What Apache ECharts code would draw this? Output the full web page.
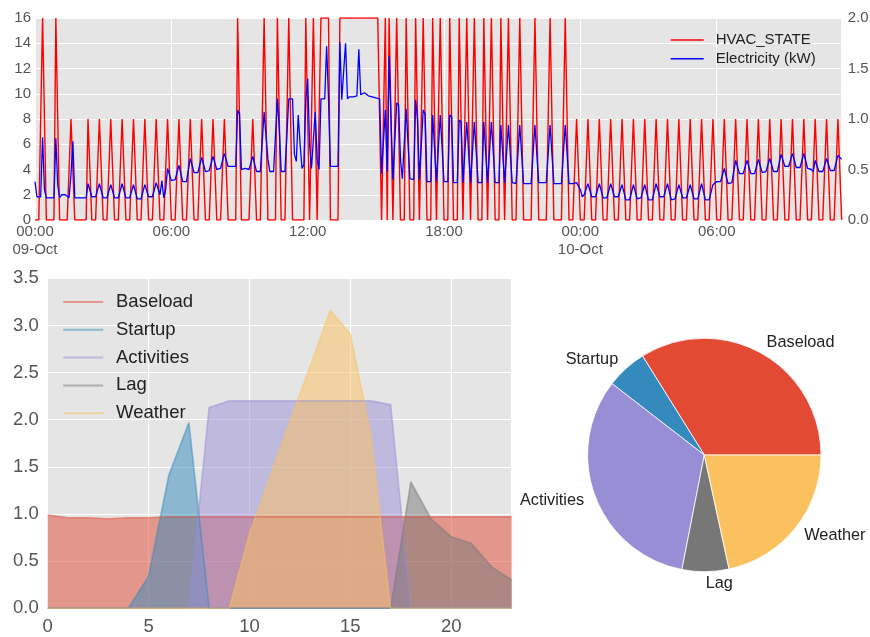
<!DOCTYPE html>
<html><head><meta charset="utf-8">
<script src="https://cdn.jsdelivr.net/npm/echarts@6/dist/echarts.min.js"></script>
<style>html,body{margin:0;padding:0;background:#fff}#c{width:870px;height:637px}</style>
</head><body><div id="c"></div>
<script>
// ---------- top chart data (5-minute samples, 00:00 09-Oct .. 11:30 10-Oct), one row per hour ----------
const timeTickLabels = ['00:00\n09-Oct', '06:00', '12:00', '18:00', '00:00\n10-Oct', '06:00'];
const sampleStepMinutes = 5;

const hvacState = [
  [0,0,0,0,16,16,0,0,0,0,0,16],      // 09-Oct 00h
  [16,0,0,0,0,0,0,8,8,0,0,0],
  [0,0,0,0,8,8,0,0,0,0,8,8],
  [0,0,0,0,8,8,0,0,0,0,8,8],
  [0,0,0,0,8,8,0,0,0,0,8,8],
  [0,0,0,0,8,8,0,0,0,0,8,8],
  [0,0,0,0,8,8,0,0,0,0,8,8],
  [0,0,0,0,8,8,0,0,0,0,8,8],
  [0,0,0,0,8,8,0,0,0,0,0,16],
  [16,0,0,0,0,0,0,8,8,0,0,0],
  [0,16,16,0,0,0,0,0,16,16,0,0],
  [0,0,16,16,0,0,0,0,0,0,0,16],
  [16,0,0,16,16,0,0,16,16,16,16,16],
  [0,0,0,0,0,16,16,16,16,16,16,16],
  [16,16,16,16,16,16,16,16,16,16,16,16],
  [16,16,16,0,0,16,0,16,16,0,0,16],
  [16,0,0,0,16,16,0,0,0,16,16,0],
  [0,16,16,0,0,0,16,16,0,0,16,16],
  [0,0,0,16,16,0,0,0,16,16,0,0],
  [16,16,0,0,16,16,0,0,0,16,16,0],
  [0,16,16,0,0,0,16,16,0,0,16,16],
  [0,0,0,0,16,16,0,0,0,0,0,0],
  [16,16,0,0,0,0,0,0,16,16,0,0],
  [0,0,0,0,16,16,0,0,0,0,8,8],
  [0,0,0,0,8,8,0,0,0,0,8,8],         // 10-Oct 00h
  [0,0,0,0,8,8,0,0,0,0,8,8],
  [0,0,0,0,8,8,0,0,0,0,8,8],
  [0,0,0,0,8,8,0,0,0,0,8,8],
  [0,0,0,0,8,8,0,0,0,0,8,8],
  [0,0,0,0,8,8,0,0,0,0,8,8],
  [0,0,0,0,8,8,0,0,0,0,8,8],
  [0,0,0,0,8,8,0,0,0,0,8,8],
  [0,0,0,0,8,8,0,0,0,0,8,8],
  [0,0,0,0,8,8,0,0,0,0,8,8],
  [0,0,0,0,8,8,0,0,0,0,8,8],
  [0,0,0,0,8,8,0]
].flat();

const electricityKW = [
  [0.38,0.23,0.23,0.23,0.82,0.3,0.22,0.22,0.22,0.22,0.22,0.81],
  [0.35,0.22,0.25,0.25,0.25,0.24,0.22,0.45,0.78,0.22,0.22,0.22],
  [0.22,0.22,0.22,0.22,0.36,0.36,0.23,0.23,0.23,0.23,0.36,0.36],
  [0.22,0.22,0.22,0.22,0.35,0.35,0.22,0.22,0.22,0.22,0.36,0.36],
  [0.22,0.22,0.22,0.22,0.35,0.35,0.21,0.21,0.21,0.22,0.35,0.35],
  [0.23,0.23,0.23,0.23,0.37,0.37,0.25,0.39,0.22,0.3,0.51,0.5],
  [0.39,0.39,0.4,0.4,0.54,0.54,0.38,0.38,0.38,0.39,0.61,0.61],
  [0.47,0.47,0.47,0.48,0.62,0.62,0.48,0.48,0.49,0.49,0.63,0.63],
  [0.5,0.5,0.51,0.51,0.66,0.66,0.53,0.53,0.53,0.53,0.53,1.09],
  [1.05,0.5,0.5,0.51,0.51,0.5,0.5,0.63,0.55,0.48,0.48,0.48],
  [0.48,1.07,1.07,0.6,0.48,0.48,0.48,0.48,1.2,0.9,0.48,0.48],
  [0.48,0.48,1.2,1.19,1.2,0.65,0.58,1.04,0.75,0.51,0.55,1.19],
  [1.4,0.75,0.51,0.8,1.07,0.6,0.5,1.2,1.2,1.2,1.72,1.2],
  [0.53,0.53,0.53,0.53,0.53,1.76,1.19,1.19,1.75,1.2,1.22,1.22],
  [1.22,1.22,1.23,1.69,1.24,1.25,1.26,1.25,1.23,1.22,1.22,1.22],
  [1.21,1.2,1.2,0.46,0.46,1.09,0.48,1.62,1.0,0.4,0.4,1.16],
  [1.14,0.6,0.41,0.41,1.1,1.11,0.41,0.4,0.4,1.19,1.0,0.4],
  [0.39,1.09,1.05,0.38,0.38,0.38,1.04,1.04,0.38,0.38,1.04,1.04],
  [0.38,0.38,0.38,1.04,1.02,0.37,0.37,0.37,0.99,0.97,0.37,0.37],
  [0.97,0.97,0.37,0.37,0.97,0.97,0.37,0.37,0.37,0.97,0.97,0.37],
  [0.37,0.97,0.97,0.37,0.37,0.37,0.94,0.94,0.37,0.37,0.94,0.94],
  [0.37,0.36,0.36,0.36,0.94,0.94,0.36,0.36,0.36,0.36,0.36,0.36],
  [0.94,0.94,0.37,0.37,0.37,0.37,0.37,0.37,0.94,0.94,0.36,0.36],
  [0.36,0.36,0.36,0.36,0.94,0.94,0.36,0.36,0.36,0.36,0.37,0.37],
  [0.3,0.23,0.25,0.24,0.36,0.36,0.23,0.23,0.23,0.23,0.36,0.36],
  [0.22,0.22,0.22,0.22,0.36,0.36,0.23,0.23,0.23,0.23,0.35,0.35],
  [0.2,0.2,0.2,0.2,0.35,0.35,0.21,0.21,0.22,0.22,0.35,0.35],
  [0.2,0.2,0.2,0.2,0.36,0.36,0.23,0.23,0.23,0.23,0.36,0.36],
  [0.2,0.2,0.21,0.21,0.35,0.35,0.22,0.22,0.22,0.22,0.35,0.35],
  [0.21,0.21,0.21,0.21,0.36,0.36,0.2,0.2,0.2,0.2,0.35,0.36],
  [0.38,0.38,0.38,0.39,0.51,0.51,0.36,0.36,0.37,0.37,0.59,0.59],
  [0.46,0.46,0.46,0.47,0.59,0.59,0.46,0.46,0.46,0.46,0.6,0.6],
  [0.47,0.48,0.48,0.48,0.61,0.61,0.48,0.48,0.48,0.48,0.65,0.65],
  [0.53,0.53,0.53,0.53,0.66,0.66,0.52,0.52,0.52,0.52,0.66,0.66],
  [0.51,0.51,0.5,0.48,0.59,0.59,0.48,0.48,0.48,0.48,0.61,0.61],
  [0.49,0.49,0.49,0.49,0.64,0.64,0.6]
].flat();

// ---------- bottom-left area chart data (hour of day) ----------
const hourOfDay = [0,1,2,3,4,5,6,7,8,9,10,11,12,13,14,15,16,17,18,19,20,21,22,23];
const baseload   = [0.99,0.96,0.96,0.95,0.96,0.96,0.97,0.97,0.97,0.97,0.97,0.97,0.97,0.97,0.97,0.97,0.97,0.97,0.97,0.97,0.97,0.97,0.97,0.97];
const startup    = [0,0,0,0,0,0.34,1.41,1.97,0,0,0,0,0,0,0,0,0,0,0,0,0,0,0,0];
const activities = [0,0,0,0,0,0,0,0,2.13,2.2,2.2,2.2,2.2,2.2,2.2,2.2,2.2,2.16,0,0,0,0,0,0];
const lag        = [0,0,0,0,0,0,0,0,0,0,0,0,0,0,0,0,0,0,1.34,0.95,0.76,0.69,0.44,0.3];
const weather    = [0,0,0,0,0,0,0,0,0,0,0.79,1.38,1.98,2.56,3.16,2.91,1.86,0,0,0,0,0,0,0];

// ---------- pie data ----------
const pieLabels = ['Baseload', 'Startup', 'Activities', 'Lag', 'Weather'];
const pieValues = [23.0, 3.83, 22.0, 4.4, 14.66];
const pieColors = ['#E24A33', '#348ABD', '#988ED5', '#777777', '#FBC15E'];

// ---------- build ----------
const FONT = "'Liberation Sans', Arial, sans-serif";
const sampleHours = hvacState.map((_, i) => i * sampleStepMinutes / 60);
const pairs = (xs, ys) => ys.map((y, i) => [xs[i], y]);
const rgba = (hex, a) => {
  const n = parseInt(hex.slice(1), 16);
  return `rgba(${n >> 16},${(n >> 8) & 255},${n & 255},${a})`;
};
const areaNames = ['Baseload', 'Startup', 'Activities', 'Lag', 'Weather'];
const areaData = [baseload, startup, activities, lag, weather];

const chart = echarts.init(document.getElementById('c'), null, { renderer: 'canvas' });
const gridBg = '#E5E5E5';
const tickColor = '#555555';

const option = {
  animation: false,
  backgroundColor: '#ffffff',
  grid: [
    { left: 35, top: 18, width: 806.7, height: 202, show: true, backgroundColor: gridBg, borderWidth: 0, containLabel: false, outerBoundsMode: 'none' },
    { left: 47.7, top: 278.3, width: 464, height: 330, show: true, backgroundColor: gridBg, borderWidth: 0, containLabel: false, outerBoundsMode: 'none' }
  ],
  xAxis: [
    {
      type: 'value', gridIndex: 0, min: 0, max: (hvacState.length - 1) * sampleStepMinutes / 60, interval: 6,
      axisLine: { show: false }, axisTick: { show: false },
      splitLine: { show: true, lineStyle: { color: '#ffffff', width: 1 } },
      axisLabel: {
        margin: 3, color: tickColor, fontSize: 15, fontFamily: FONT, lineHeight: 18,
        showMaxLabel: false,
        formatter: v => (Math.abs(v / 6 - Math.round(v / 6)) < 1e-6 && Math.round(v / 6) < timeTickLabels.length) ? timeTickLabels[Math.round(v / 6)] : ''
      }
    },
    {
      type: 'value', gridIndex: 1, min: 0, max: 23, interval: 5,
      axisLine: { show: false }, axisTick: { show: false },
      splitLine: { show: true, lineStyle: { color: '#ffffff', width: 1.2 } },
      axisLabel: {
        margin: 9, color: tickColor, fontSize: 18.5, fontFamily: FONT, showMaxLabel: false,
        formatter: v => (v % 5 === 0 ? String(v) : '')
      }
    }
  ],
  yAxis: [
    {
      type: 'value', gridIndex: 0, min: 0, max: 16, interval: 2,
      axisLine: { show: false }, axisTick: { show: false },
      splitLine: { show: true, lineStyle: { color: '#ffffff', width: 1 } },
      axisLabel: { margin: 4, color: tickColor, fontSize: 15, fontFamily: FONT }
    },
    {
      type: 'value', gridIndex: 0, min: 0, max: 2, interval: 0.5, position: 'right',
      axisLine: { show: false }, axisTick: { show: false }, splitLine: { show: false },
      axisLabel: { margin: 6, color: tickColor, fontSize: 15, fontFamily: FONT, formatter: v => v.toFixed(1) }
    },
    {
      type: 'value', gridIndex: 1, min: 0, max: 3.5, interval: 0.5,
      axisLine: { show: false }, axisTick: { show: false },
      splitLine: { show: true, lineStyle: { color: '#ffffff', width: 1.2 } },
      axisLabel: { margin: 9, color: tickColor, fontSize: 18.5, fontFamily: FONT, formatter: v => v.toFixed(1) }
    }
  ],
  legend: [
    {
      data: ['HVAC_STATE', 'Electricity (kW)'], orient: 'vertical', left: 670.7, top: 32.5, padding: 0,
      icon: 'rect', itemWidth: 33, itemHeight: 1.4, itemGap: 3.7, selectedMode: false,
      textStyle: { fontSize: 15, lineHeight: 15, fontFamily: FONT, color: '#222', padding: [0, 0, 0, 7] }
    },
    {
      data: areaNames, orient: 'vertical', left: 63.3, top: 292.5, padding: 0,
      icon: 'rect', itemWidth: 40, itemHeight: 2, itemGap: 8.8, selectedMode: false,
      textStyle: { fontSize: 18.5, lineHeight: 18.5, fontFamily: FONT, color: '#222', padding: [0, 0, 0, 7.7] }
    }
  ],
  series: [
    {
      name: 'HVAC_STATE', type: 'line', xAxisIndex: 0, yAxisIndex: 0,
      data: pairs(sampleHours, hvacState), showSymbol: false, symbol: 'none',
      color: '#FF0000', lineStyle: { color: '#FF0000', width: 1.4 }, emphasis: { disabled: true }, silent: true
    },
    {
      name: 'Electricity (kW)', type: 'line', xAxisIndex: 0, yAxisIndex: 1,
      data: pairs(sampleHours, electricityKW), showSymbol: false, symbol: 'none',
      color: '#0000FF', lineStyle: { color: '#0000FF', width: 1.3 }, emphasis: { disabled: true }, silent: true
    },
    ...areaNames.map((name, k) => ({
      name, type: 'line', xAxisIndex: 1, yAxisIndex: 2,
      data: pairs(hourOfDay, areaData[k]), showSymbol: false, symbol: 'none',
      color: rgba(pieColors[k], 0.5),
      lineStyle: { color: rgba(pieColors[k], 0.5), width: 1.6 },
      areaStyle: { color: rgba(pieColors[k], 0.5), opacity: 1 },
      emphasis: { disabled: true }, silent: true
    })),
    {
      name: 'share', type: 'pie', center: [704.3, 455], radius: 116.7,
      startAngle: 0, clockwise: false, avoidLabelOverlap: false, silent: true,
      emphasis: { disabled: true, scale: false },
      itemStyle: { borderColor: '#ffffff', borderWidth: 0.8 },
      label: { show: true, position: 'outside', fontSize: 16.3, fontFamily: FONT, color: '#222', distanceToLabelLine: 0 },
      labelLine: { show: false, length: 11.7, length2: 0 },
      data: pieLabels.map((n, k) => ({ name: n, value: pieValues[k], itemStyle: { color: pieColors[k] } }))
    }
  ]
};
chart.setOption(option);
</script>
</body></html>
